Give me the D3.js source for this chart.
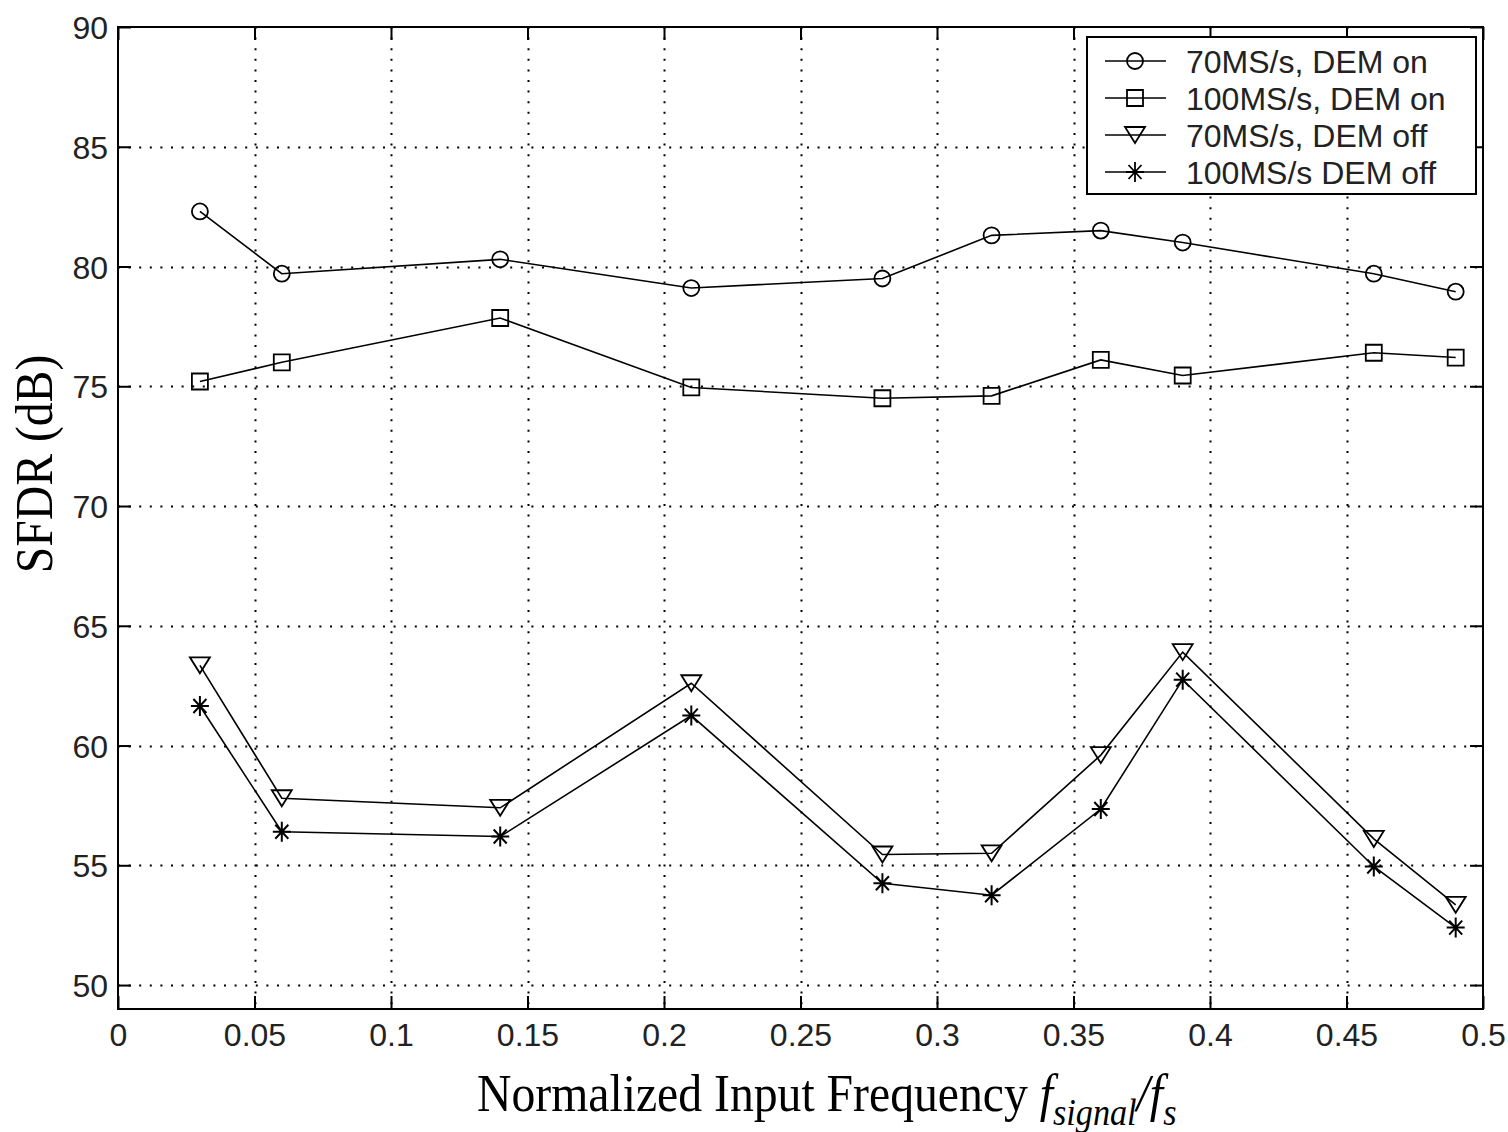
<!DOCTYPE html>
<html>
<head>
<meta charset="utf-8">
<script src="https://cdn.jsdelivr.net/npm/d3@7"></script>
<style>
  body { margin: 0; background: #fff; }
  svg { display: block; }
</style>
</head>
<body>
<svg id="chart" width="1508" height="1132"></svg>
<script>
// data
const freqs = [0.03, 0.06, 0.14, 0.21, 0.28, 0.32, 0.36, 0.39, 0.46, 0.49];
const dem_on_70 = [82.3, 79.7, 80.3, 79.1, 79.5, 81.3, 81.5, 81.0, 79.7, 78.95];
const dem_on_100 = [75.2, 76.0, 77.85, 74.95, 74.5, 74.6, 76.1, 75.45, 76.4, 76.2];
const dem_off_70 = [63.35, 57.8, 57.4, 62.6, 55.45, 55.5, 59.6, 63.9, 56.1, 53.35];
const dem_off_100 = [61.65, 56.4, 56.2, 61.25, 54.25, 53.75, 57.35, 62.75, 54.95, 52.4];
const series_names = ["70MS/s, DEM on", "100MS/s, DEM on", "70MS/s, DEM off", "100MS/s DEM off"];
const series_markers = ["circle", "square", "triangle", "star"];
const xticks = [0, 0.05, 0.1, 0.15, 0.2, 0.25, 0.3, 0.35, 0.4, 0.45, 0.5];
const yticks = [50, 55, 60, 65, 70, 75, 80, 85, 90];

var all_series = [dem_on_70, dem_on_100, dem_off_70, dem_off_100];

const pLeft = 118, pRight = 1483, pTop = 27, pBottom = 1009;
var x = d3.scaleLinear().domain([0, 0.5]).range([pLeft, pRight]);
var y = d3.scaleLinear().domain([49, 90]).range([pBottom, pTop]);

var svg = d3.select("#chart");

// dotted grid
var grid = svg.append("g").attr("stroke", "#000").attr("stroke-width", 2)
    .attr("stroke-dasharray", "2,8.6");
grid.selectAll(".vg")
    .data(xticks.filter(t => t > 0 && t < 0.5))
    .enter()
    .append("line")
        .attr("x1", d => Math.round(x(d)) + 0.5)
        .attr("x2", d => Math.round(x(d)) + 0.5)
        .attr("y1", pTop)
        .attr("y2", pBottom);
grid.selectAll(".hg")
    .data(yticks.filter(t => t < 90))
    .enter()
    .append("line")
        .attr("x1", pLeft)
        .attr("x2", pRight)
        .attr("y1", d => Math.round(y(d)) + 0.5)
        .attr("y2", d => Math.round(y(d)) + 0.5);

// axes, ticks pointing inward on all four sides
var tickLen = 13;
var axBottom = d3.axisBottom(x).tickValues(xticks).tickSize(-tickLen).tickFormat(d3.format("~g"));
var axTop = d3.axisTop(x).tickValues(xticks).tickSize(-tickLen).tickFormat("");
var axLeft = d3.axisLeft(y).tickValues(yticks).tickSize(-tickLen).tickFormat(d3.format("d"));
var axRight = d3.axisRight(y).tickValues(yticks).tickSize(-tickLen).tickFormat("");

function styleAxis(g) {
    g.select(".domain").remove();
    g.selectAll("line").attr("stroke", "#000").attr("stroke-width", 2);
    g.selectAll("text")
        .attr("fill", "#222")
        .style("font-family", "'Liberation Sans', Arial, sans-serif")
        .style("font-size", "32px");
}
svg.append("g").attr("transform", `translate(0,${pBottom})`).call(axBottom).call(styleAxis)
    .selectAll("text").attr("dy", "0").attr("y", 37);
svg.append("g").attr("transform", `translate(0,${pTop})`).call(axTop).call(styleAxis);
svg.append("g").attr("transform", `translate(${pLeft},0)`).call(axLeft).call(styleAxis)
    .selectAll("text").attr("x", -10).attr("dy", "0.36em");
svg.append("g").attr("transform", `translate(${pRight},0)`).call(axRight).call(styleAxis);

// frame
svg.append("rect")
    .attr("x", pLeft).attr("y", pTop)
    .attr("width", pRight - pLeft).attr("height", pBottom - pTop)
    .attr("fill", "none").attr("stroke", "#000").attr("stroke-width", 2);

// marker shapes
function markerPath(kind) {
    if (kind == "circle") return d3.symbol().type(d3.symbolCircle).size(Math.PI * 64)();
    if (kind == "square") return "M-8,-8H8V8H-8Z";
    if (kind == "triangle") return "M-10,-8H10L0,8Z";
    return "M-9,0H9M0,-10V10M-6.5,-7L6.5,7M-6.5,7L6.5,-7";
}

var line = d3.line()
    .x((d, i) => x(freqs[i]))
    .y(d => y(d));

all_series.forEach((vals, k) => {
    var g = svg.append("g");
    g.append("path")
        .attr("d", line(vals))
        .attr("fill", "none")
        .attr("stroke", "#000")
        .attr("stroke-width", 1.6);
    g.selectAll("path.mk")
        .data(vals)
        .enter()
        .append("path")
            .attr("class", "mk")
            .attr("d", markerPath(series_markers[k]))
            .attr("transform", (d, i) => `translate(${x(freqs[i])},${y(d)})`)
            .attr("fill", "none")
            .attr("stroke", "#000")
            .attr("stroke-width", series_markers[k] == "star" ? 2 : 1.8);
});

// legend
var leg = svg.append("g");
leg.append("rect")
    .attr("x", 1087).attr("y", 37)
    .attr("width", 389).attr("height", 157)
    .attr("fill", "#fff").attr("stroke", "#000").attr("stroke-width", 2);
series_names.forEach((name, k) => {
    var cy = 61 + k * 37;
    leg.append("line")
        .attr("x1", 1105).attr("x2", 1166)
        .attr("y1", cy).attr("y2", cy)
        .attr("stroke", "#000").attr("stroke-width", 1.6);
    leg.append("path")
        .attr("d", markerPath(series_markers[k]))
        .attr("transform", `translate(1135,${cy})`)
        .attr("fill", "none").attr("stroke", "#000").attr("stroke-width", 1.8);
    leg.append("text")
        .attr("x", 1186).attr("y", cy)
        .attr("dy", "0.36em")
        .attr("fill", "#222")
        .style("font-family", "'Liberation Sans', Arial, sans-serif")
        .style("font-size", "32px")
        .text(name);
});

// axis titles (serif, slightly condensed)
var serif = "'Liberation Serif', 'Times New Roman', serif";
svg.append("text")
    .attr("transform", "translate(52,464) rotate(-90) scale(0.9,1)")
    .attr("text-anchor", "middle")
    .style("font-family", serif)
    .style("font-size", "53px")
    .text("SFDR (dB)");

var xl = svg.append("text")
    .attr("transform", "translate(477,1111) scale(0.9,1)")
    .style("font-family", serif)
    .style("font-size", "53px");
xl.append("tspan").text("Normalized Input Frequency ");
xl.append("tspan").style("font-style", "italic").text("f");
xl.append("tspan").style("font-style", "italic").style("font-size", "38px").attr("dy", 14).text("signal");
xl.append("tspan").style("font-style", "italic").attr("dy", -14).text("/f");
xl.append("tspan").style("font-style", "italic").style("font-size", "38px").attr("dy", 14).text("s");
</script>
</body>
</html>
